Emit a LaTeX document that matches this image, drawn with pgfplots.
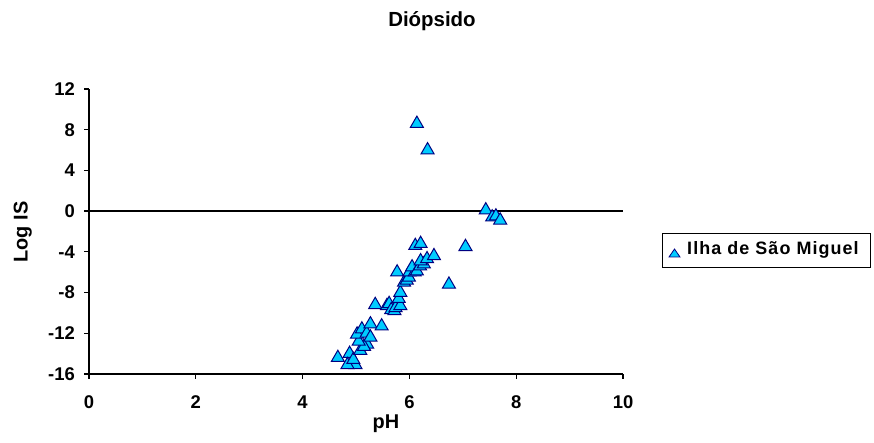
\documentclass[border=0pt]{standalone}
\usepackage{pgfplots}
\pgfplotsset{compat=1.18}
\usepackage{fontspec}
\setmainfont{Liberation Sans}
\definecolor{mfill}{RGB}{0,204,255}
\definecolor{medge}{RGB}{0,0,128}
\begin{document}
\begin{tikzpicture}[x=1bp,y=1bp]
\path (0,0) rectangle (874,443);
\begin{axis}[
  at={(89bp,69bp)}, anchor=south west,
  scale only axis, width=534bp, height=285bp,
  xmin=0, xmax=10, ymin=-16, ymax=12,
  xtick={0,2,...,10}, ytick={-16,-12,...,12},
  axis x line*=bottom, axis y line*=left,
  axis line style={line width=1.6pt,-},
  tick style={line width=1.3pt,black},
  tick align=outside, major tick length=5bp,
  minor tick num=0,
  /pgf/number format/assume math mode=true,
  ticklabel style={font=\bfseries\fontsize{18.5}{20}\selectfont, inner sep=0pt},
  xticklabel style={anchor=base, yshift=-30bp},
  yticklabel style={anchor=east, xshift=-9bp},
  xlabel={\bfseries\fontsize{20}{22}\selectfont pH},
  ylabel={\bfseries\fontsize{20}{22}\selectfont Log IS},
  xlabel style={at={(rel axis cs:0.556,-0.193)}, anchor=base, inner sep=0pt},
  ylabel style={at={(rel axis cs:-0.115,0.498)}, anchor=base, inner sep=0pt},
  clip=false,
]
\draw[line width=1.6pt] (axis cs:0,0) -- (axis cs:10,0);
\addplot[only marks, mark=triangle*, mark size=7.5bp,
  mark options={fill=mfill, draw=medge, line width=1pt}] coordinates {
(4.66,-14.4) (4.88,-14.0) (4.99,-15.1) (4.84,-15.1) (4.95,-14.6)
(5.08,-13.7) (5.21,-13.1) (5.15,-13.3) (5.05,-12.8) (5.02,-12.1)
(5.11,-11.6) (5.20,-12.0) (5.27,-11.1) (5.27,-12.4) (5.48,-11.3)
(5.36,-9.2) (5.58,-9.3) (5.62,-9.1) (5.66,-9.7) (5.72,-9.8)
(5.74,-9.5) (5.83,-9.3) (5.80,-8.6) (5.83,-8.0) (5.90,-7.0)
(5.95,-6.8) (5.77,-6.0) (5.99,-6.5) (6.00,-6.0) (6.10,-6.0)
(6.05,-5.5) (6.14,-5.9) (6.20,-5.4) (6.27,-5.2) (6.21,-4.9)
(6.33,-4.7) (6.46,-4.4) (6.11,-3.4) (6.21,-3.2)
(6.74,-7.2) (7.05,-3.5)
(7.43,0.1) (7.55,-0.6) (7.62,-0.5) (7.70,-0.9)
(6.14,8.6) (6.34,6.0)
};
\end{axis}
\node[font=\bfseries\fontsize{20.5}{22}\selectfont, anchor=base, inner sep=0pt] at (432,416) {Diópsido};
\draw[line width=0.8pt] (662,176) rectangle (870,210);
\draw[fill=mfill, draw=medge, line width=0.8pt] (669,186) -- (680,186) -- (674.5,194) -- cycle;
\node[anchor=base west, inner sep=0pt, font=\bfseries\fontsize{18}{20}\selectfont\addfontfeature{LetterSpace=6}] at (687,188.4) {Ilha de São Miguel};
\end{tikzpicture}
\end{document}
